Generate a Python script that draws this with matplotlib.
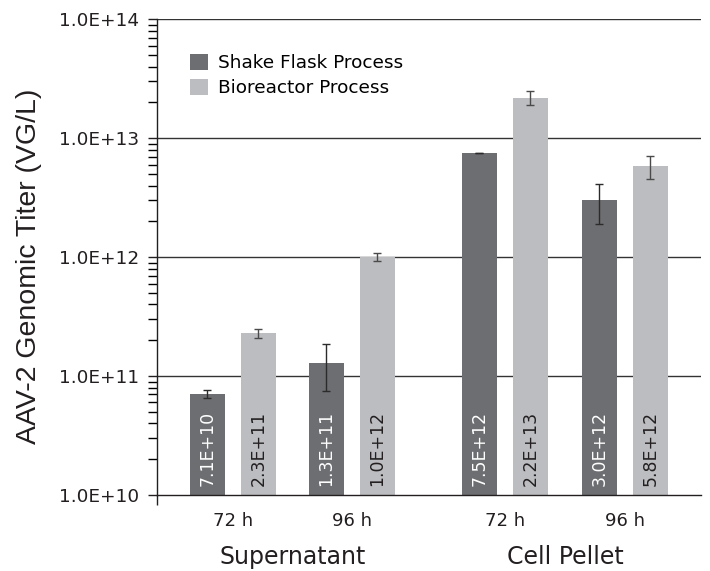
import matplotlib.pyplot as plt
from matplotlib.ticker import FuncFormatter, LogLocator
import numpy as np

plt.rcParams['font.family'] = ['DejaVu Sans']

# data
groups = ['Supernatant', 'Cell Pellet']
times = ['72 h', '96 h', '72 h', '96 h']
shake_flask = [7.1e10, 1.3e11, 7.5e12, 3.0e12]
shake_err = [0.5e10, 0.55e11, 0.05e12, 1.1e12]
bioreactor = [2.3e11, 1.0e12, 2.2e13, 5.8e12]
bio_err = [0.2e11, 0.08e12, 0.28e13, 1.3e12]
shake_labels = ['7.1E+10', '1.3E+11', '7.5E+12', '3.0E+12']
bio_labels = ['2.3E+11', '1.0E+12', '2.2E+13', '5.8E+12']

dark = '#6d6e71'
light = '#bcbdc0'
ink = '#231f20'

# pair centres (in units of bar spacing)
centres = np.array([0.0, 2.333, 5.333, 7.686])
width = 0.686

fig = plt.figure(figsize=(7.1, 5.71), dpi=100)
ax = fig.add_axes([0.2211, 0.1331, 0.7662, 0.8331])

ax.set_yscale('log')
ax.set_ylim(1e10, 1e14)
ax.set_xlim(-1.49, 9.176)

for y in [1e11, 1e12, 1e13, 1e14]:
    ax.axhline(y, color='#333333', lw=1.0, zorder=1)

x1 = centres - 0.5
x2 = centres + 0.5
ax.bar(x1, shake_flask, width, color=dark, zorder=2, label='Shake Flask Process')
ax.bar(x2, bioreactor, width, color=light, zorder=2, label='Bioreactor Process')
ax.errorbar(x1, shake_flask, yerr=shake_err, fmt='none', ecolor='#2b2b2b',
            elinewidth=1.0, capsize=3, capthick=1.0, zorder=3)
ax.errorbar(x2, bioreactor, yerr=bio_err, fmt='none', ecolor='#4a4a4a',
            elinewidth=1.0, capsize=3, capthick=1.0, zorder=3)

for x, lab in zip(x1, shake_labels):
    ax.text(x, 1.2e10, lab, rotation=90, ha='center', va='bottom',
            color='white', fontsize=12.5, zorder=4)
for x, lab in zip(x2, bio_labels):
    ax.text(x, 1.2e10, lab, rotation=90, ha='center', va='bottom',
            color=ink, fontsize=12.5, zorder=4)

ax.yaxis.set_major_locator(LogLocator(base=10))
ax.yaxis.set_minor_locator(LogLocator(base=10, subs=np.arange(2, 10)))
ax.yaxis.set_major_formatter(FuncFormatter(lambda v, p: '%.1fE+%d' % (1.0, round(np.log10(v)))))
ax.tick_params(axis='y', which='major', direction='out', length=6.5, width=1,
               labelsize=13.3, colors=ink, pad=6.5)
ax.tick_params(axis='y', which='minor', direction='out', length=6.5, width=1, labelleft=False)

ax.set_xticks(centres)
ax.set_xticklabels(times)
ax.tick_params(axis='x', length=0, labelsize=13, colors=ink, pad=12)
# small tick below the corner, as in the original
ax.set_xticks([-1.49], minor=True)
ax.tick_params(axis='x', which='minor', direction='out', length=7, width=1, color=ink)

for sp in ['top', 'right']:
    ax.spines[sp].set_visible(False)
for sp in ['left', 'bottom']:
    ax.spines[sp].set_color(ink)
    ax.spines[sp].set_linewidth(1.0)

ax.set_ylabel('AAV-2 Genomic Titer (VG/L)', fontsize=20.5, color=ink,
              family='Liberation Sans')
ax.yaxis.set_label_coords(-0.212, 0.481)

trans = ax.get_xaxis_transform()
ax.text((centres[0] + centres[1]) / 2, -0.13, groups[0], transform=trans,
        ha='center', va='center', fontsize=17, color=ink)
ax.text((centres[2] + centres[3]) / 2, -0.13, groups[1], transform=trans,
        ha='center', va='center', fontsize=17, color=ink)

ax.legend(loc='upper left', bbox_to_anchor=(0.0607, 0.928), frameon=False,
          fontsize=13.3, handlelength=1.0, handleheight=1.0, handletextpad=0.5,
          labelspacing=0.35, borderaxespad=0, borderpad=0)

fig.savefig('out.png', dpi=100)
